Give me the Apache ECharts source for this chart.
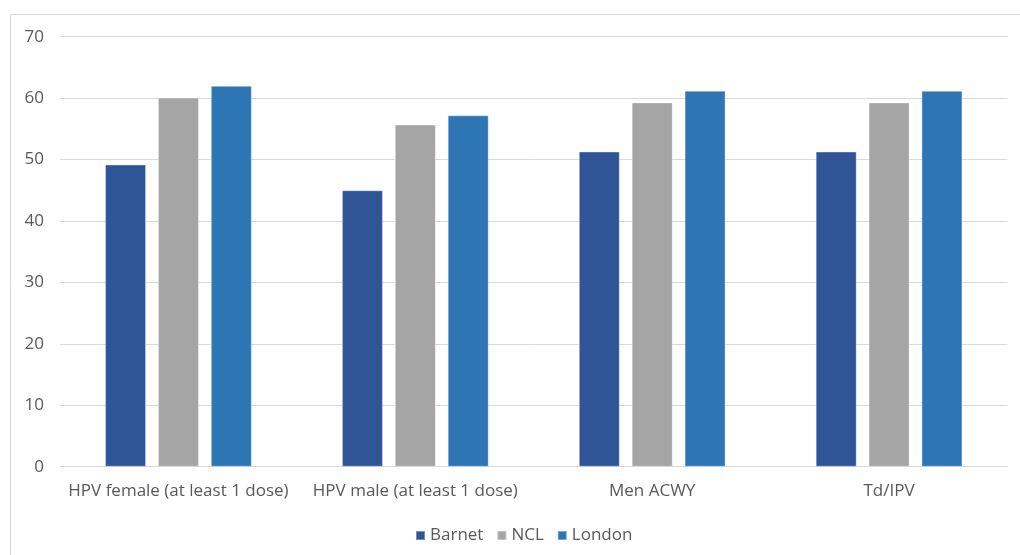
<!DOCTYPE html>
<html>
<head>
<meta charset="utf-8">
<script src="https://cdn.jsdelivr.net/npm/echarts@6/dist/echarts.min.js"></script>
<style>
  html, body { margin: 0; padding: 0; background: #ffffff; }
  #chart { width: 1020px; height: 555px; }
</style>
</head>
<body>
<div id="chart"></div>
<script>
// Uptake (%) by programme
const categories = ['HPV female (at least 1 dose)', 'HPV male (at least 1 dose)', 'Men ACWY', 'Td/IPV'];
const barnet = [49.2, 45.0, 51.3, 51.3];
const ncl = [60.1, 55.7, 59.3, 59.3];
const london = [62.0, 57.2, 61.2, 61.2];
const yTicks = { min: 0, max: 70, interval: 10 };

const textColor = '#595959';
const fontFamily = '"Open Sans", "Noto Sans", sans-serif';

const chart = echarts.init(document.getElementById('chart'), null, { renderer: 'canvas' });

function barSeries(name, data, color) {
  return {
    name: name,
    type: 'bar',
    data: data,
    barWidth: 41,
    barGap: '29%',
    itemStyle: { color: color, borderColor: 'rgba(255,255,255,0.35)', borderWidth: 1 }
  };
}

chart.setOption({
  animation: false,
  backgroundColor: '#ffffff',
  graphic: [{
    type: 'rect',
    shape: { x: 10.5, y: 14.5, width: 1030, height: 560 },
    style: { fill: 'none', stroke: '#D9D9D9', lineWidth: 1 },
    silent: true
  }],
  grid: { left: 60, right: 12.5, top: 36.7, bottom: 88.3, containLabel: false },
  legend: {
    data: ['Barnet', 'NCL', 'London'],
    top: 527,
    left: 415,
    padding: 0,
    itemWidth: 9,
    itemHeight: 9,
    itemGap: 13,
    icon: 'rect',
    textStyle: { color: textColor, fontSize: 17, fontFamily: fontFamily }
  },
  xAxis: {
    type: 'category',
    data: categories,
    axisLine: { show: true, lineStyle: { color: '#D9D9D9', width: 1 } },
    axisTick: { show: false },
    axisLabel: { color: textColor, fontSize: 17, fontFamily: fontFamily, margin: 16, interval: 0 }
  },
  yAxis: {
    type: 'value',
    min: yTicks.min,
    max: yTicks.max,
    interval: yTicks.interval,
    axisLine: { show: false },
    axisTick: { show: false },
    splitLine: { lineStyle: { color: '#D9D9D9', width: 1 } },
    axisLabel: { color: textColor, fontSize: 17, fontFamily: fontFamily, margin: 16 }
  },
  series: [
    barSeries('Barnet', barnet, '#2F5597'),
    barSeries('NCL', ncl, '#A5A5A5'),
    barSeries('London', london, '#2E75B6')
  ]
});
</script>
</body>
</html>
